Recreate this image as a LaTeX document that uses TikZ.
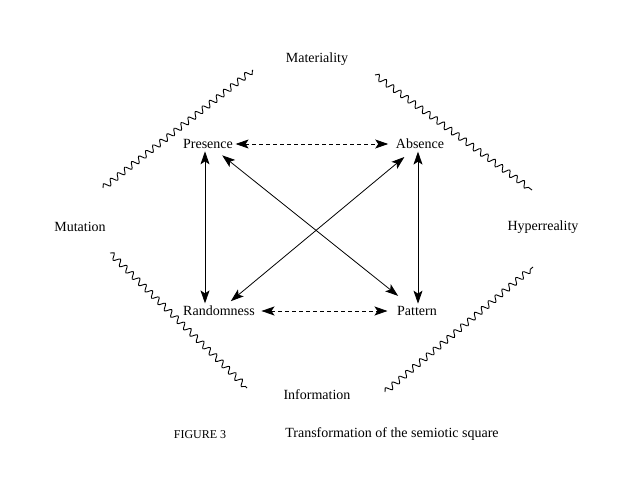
\documentclass[tikz,border=0pt]{standalone}
\usepackage{fontspec}
\setmainfont{Liberation Serif}
\usetikzlibrary{arrows.meta,decorations.pathmorphing}
\tikzset{term/.style={inner sep=1.5pt, font=\fontsize{14}{16}\selectfont},
both/.style={{Stealth[length=13pt,width=9pt,inset=3pt]}-{Stealth[length=13pt,width=9pt,inset=3pt]}, line width=0.8pt},
dash arrow/.style={both, dash pattern=on 4pt off 3pt},
wavy/.style={decorate, decoration={snake, amplitude=3pt, segment length=9pt}, line width=0.9pt}}

\begin{document}
\begin{tikzpicture}[x=1pt,y=-1pt]
        \useasboundingbox (0,0) rectangle (628,478);

        \node[term] (pres) at (208, 144) {Presence};
        \node[term] (abs) at (420, 144) {Absence};
        \node[term] (rand) at (219, 311) {Randomness};
        \node[term] (pat) at (417, 311) {Pattern};

        \node[term] (mat) at (317, 59) {Materiality};
        \node[term] (mut) at (80, 227) {Mutation};
        \node[term] (hyp) at (543, 227) {Hyperreality};
        \node[term] (inf) at (317, 395) {Information};

        \draw[dash arrow, shorten <=1pt, shorten >=6pt] (pres) -- (abs);
        \draw[dash arrow, shorten <=5pt, shorten >=8pt] (rand) -- (pat);

        \draw[both, shorten <=1pt, shorten >=1pt] ([xshift=-3pt]pres.south) -- ([xshift=-3pt]pres.south |- rand.north);
        \draw[both, shorten <=1pt, shorten >=1pt] ([xshift=-2pt]abs.south) -- ([xshift=-2pt]abs.south |- pat.north);

        \draw[both, shorten <=8pt, shorten >=14pt] (pres) -- (pat);
        \draw[both, shorten <=10pt, shorten >=5pt] (abs) -- (rand);

        % the four wavy borders
        \draw[wavy] (103, 188) -- (253, 70);
        \draw[wavy] (375, 75) -- (532, 190);
        \draw[wavy] (110, 253) -- (247, 388);
        \draw[wavy] (385, 392) -- (533, 267);

        \node[term] (fig) at (200, 435) {\fontsize{12}{14}\selectfont FIGURE 3};
        \node[term] (cap) at (392, 434) {Transformation of the semiotic square};
\end{tikzpicture}
\end{document}
